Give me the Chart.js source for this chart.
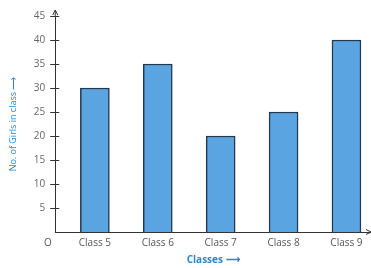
<!DOCTYPE html>
<html>
<head>
<meta charset="utf-8">
<script src="https://cdn.jsdelivr.net/npm/chart.js@4/dist/chart.umd.min.js"></script>
<style>
  html, body { margin: 0; padding: 0; background: #fff; }
  #wrap { position: relative; width: 371px; height: 268px; }
  #origin { position: absolute; left: 44px; top: 235px; font: 10px "Open Sans", sans-serif; color: #555; }
</style>
</head>
<body>
<div id="wrap">
  <canvas id="chart" width="371" height="268"></canvas>
  <div id="origin">O</div>
</div>
<script>
const classes = ['Class 5', 'Class 6', 'Class 7', 'Class 8', 'Class 9'];
const girls = [30, 35, 20, 25, 40];
const yTicks = [5, 10, 15, 20, 25, 30, 35, 40, 45];

// small inward half of the tick marks and the axis arrow heads
const axisMarks = {
    id: 'axisMarks',
    afterDraw(chart) {
        const ctx = chart.ctx;
        const x = chart.scales.x, y = chart.scales.y;
        const left = x.left, bottom = y.bottom;
        ctx.save();
        ctx.strokeStyle = '#333';
        ctx.lineWidth = 1;
        yTicks.forEach(function (v) {
            const py = Math.round(y.getPixelForValue(v)) + 0.5;
            ctx.beginPath();
            ctx.moveTo(left, py);
            ctx.lineTo(left + 4, py);
            ctx.stroke();
        });
        // y axis arrow
        ctx.beginPath();
        ctx.moveTo(left - 2.5, y.top - 1);
        ctx.lineTo(left, y.top - 6);
        ctx.lineTo(left + 2.5, y.top - 1);
        ctx.moveTo(left, y.top);
        ctx.lineTo(left, y.top - 6);
        ctx.stroke();
        // x axis arrow
        ctx.beginPath();
        ctx.moveTo(x.right - 5, bottom - 2.5);
        ctx.lineTo(x.right, bottom);
        ctx.lineTo(x.right - 5, bottom + 2.5);
        ctx.stroke();
        ctx.restore();
    }
};

new Chart(document.getElementById('chart'), {
    type: 'bar',
    data: {
        datasets: [{
            data: classes.map((c, i) => ({ x: i + 1, y: girls[i] })),
            backgroundColor: '#5ba4e2',
            borderColor: '#22384c',
            borderWidth: 1.5,
            barThickness: 29
        }]
    },
    options: {
        responsive: false,
        animation: false,
        layout: { padding: { left: 8, right: 0, top: 16, bottom: 0 } },
        plugins: { legend: { display: false }, tooltip: { enabled: false } },
        scales: {
            x: {
                type: 'linear',
                min: 0.37,
                max: 5.39,
                offset: false,
                grid: { display: false, drawTicks: false },
                border: { color: '#333', width: 1 },
                afterBuildTicks(scale) {
                    scale.ticks = classes.map((c, i) => ({ value: i + 1 }));
                },
                ticks: {
                    padding: 5,
                    autoSkip: false,
                    maxRotation: 0,
                    color: '#555',
                    font: { family: 'Open Sans', size: 10 },
                    callback: (v) => classes[v - 1] || ''
                },
                title: {
                    display: true,
                    text: 'Classes ⟶',
                    color: '#2f86c8',
                    font: { family: 'Open Sans', size: 10, weight: 'bold' },
                    padding: { top: 0, bottom: 2 }
                }
            },
            y: {
                min: 0,
                max: 45,
                afterBuildTicks(scale) {
                    scale.ticks = yTicks.map(v => ({ value: v }));
                },
                grid: { drawOnChartArea: false, tickLength: 5, color: '#333' },
                border: { color: '#333', width: 1 },
                ticks: {
                    padding: 5,
                    color: '#666',
                    font: { family: 'Open Sans', size: 10 }
                },
                title: {
                    display: true,
                    text: 'No. of Girls in class ⟶',
                    color: '#2f86c8',
                    font: { family: 'Open Sans', size: 9 },
                    padding: { top: 0, bottom: 10 }
                }
            }
        }
    },
    plugins: [axisMarks]
});
</script>
</body>
</html>
